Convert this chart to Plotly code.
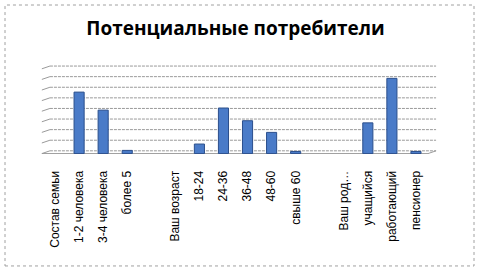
import plotly.graph_objects as go

categories = ["Состав семьи", "1-2 человека", "3-4 человека", "более 5", "",
              "Ваш возраст", "18-24", "24-36", "36-48", "48-60", "свыше 60", "",
              "Ваш род…", "учащийся", "работающий", "пенсионер"]
values = [None, 58, 41, 3, None,
          None, 9, 43, 31, 20, 2, None,
          None, 29, 71, 2]
grid_values = [0, 10, 20, 30, 40, 50, 60, 70, 80]

x_idx = list(range(len(categories)))

fig = go.Figure()

shapes = []
# back-wall gridlines and left-wall diagonal stubs
for v in grid_values:
    shapes.append(dict(type="line", xref="paper", yref="y", layer="below",
                       x0=0.018, y0=v, x1=1.021, y1=v,
                       line=dict(color="#9a9a9a", width=1, dash="3px,1px")))
    shapes.append(dict(type="line", xref="paper", yref="y", layer="below",
                       x0=-0.003, y0=v - 2.6, x1=0.018, y1=v,
                       line=dict(color="#9a9a9a", width=1)))
# floor right edge and front edge
shapes.append(dict(type="line", xref="paper", yref="y", layer="below",
                   x0=1.0, y0=-2.6, x1=1.021, y1=0,
                   line=dict(color="#9a9a9a", width=1)))
shapes.append(dict(type="line", xref="paper", yref="y", layer="below",
                   x0=-0.003, y0=-2.6, x1=1.0, y1=-2.6,
                   line=dict(color="#9a9a9a", width=1)))
# outer chart border
shapes.append(dict(type="rect", xref="paper", yref="paper",
                   x0=-0.0987, y0=-1.258, x1=1.1195, y1=1.674,
                   line=dict(color="#a0a0a0", width=1, dash="dot"),
                   fillcolor="rgba(0,0,0,0)"))

fig.add_trace(go.Bar(
    x=x_idx, y=values,
    marker=dict(color="#4a7bc8", line=dict(color="#2b4f8c", width=1)),
    width=0.42, base=-2.6,
))

fig.update_layout(
    width=480, height=272,
    margin=dict(l=43, r=52, t=65, b=118),
    paper_bgcolor="rgba(0,0,0,0)", plot_bgcolor="rgba(0,0,0,0)",
    showlegend=False,
    title=dict(text="<b>Потенциальные потребители</b>", x=0.5, xref="paper",
               xanchor="center", y=0.895, yanchor="middle",
               font=dict(family="Open Sans, sans-serif", size=19, color="black")),
    shapes=shapes,
    xaxis=dict(tickvals=x_idx, ticktext=categories, tickangle=-90,
               range=[-0.5, 15.5], showgrid=False, zeroline=False,
               showline=False, ticks="outside", ticklen=11, tickcolor="rgba(0,0,0,0)",
               tickfont=dict(family="Liberation Sans, Arial, sans-serif", size=12, color="black")),
    yaxis=dict(range=[-3, 81], showticklabels=False,
               showgrid=False, zeroline=False, showline=False, ticks=""),
)

fig.write_html("out.html")
